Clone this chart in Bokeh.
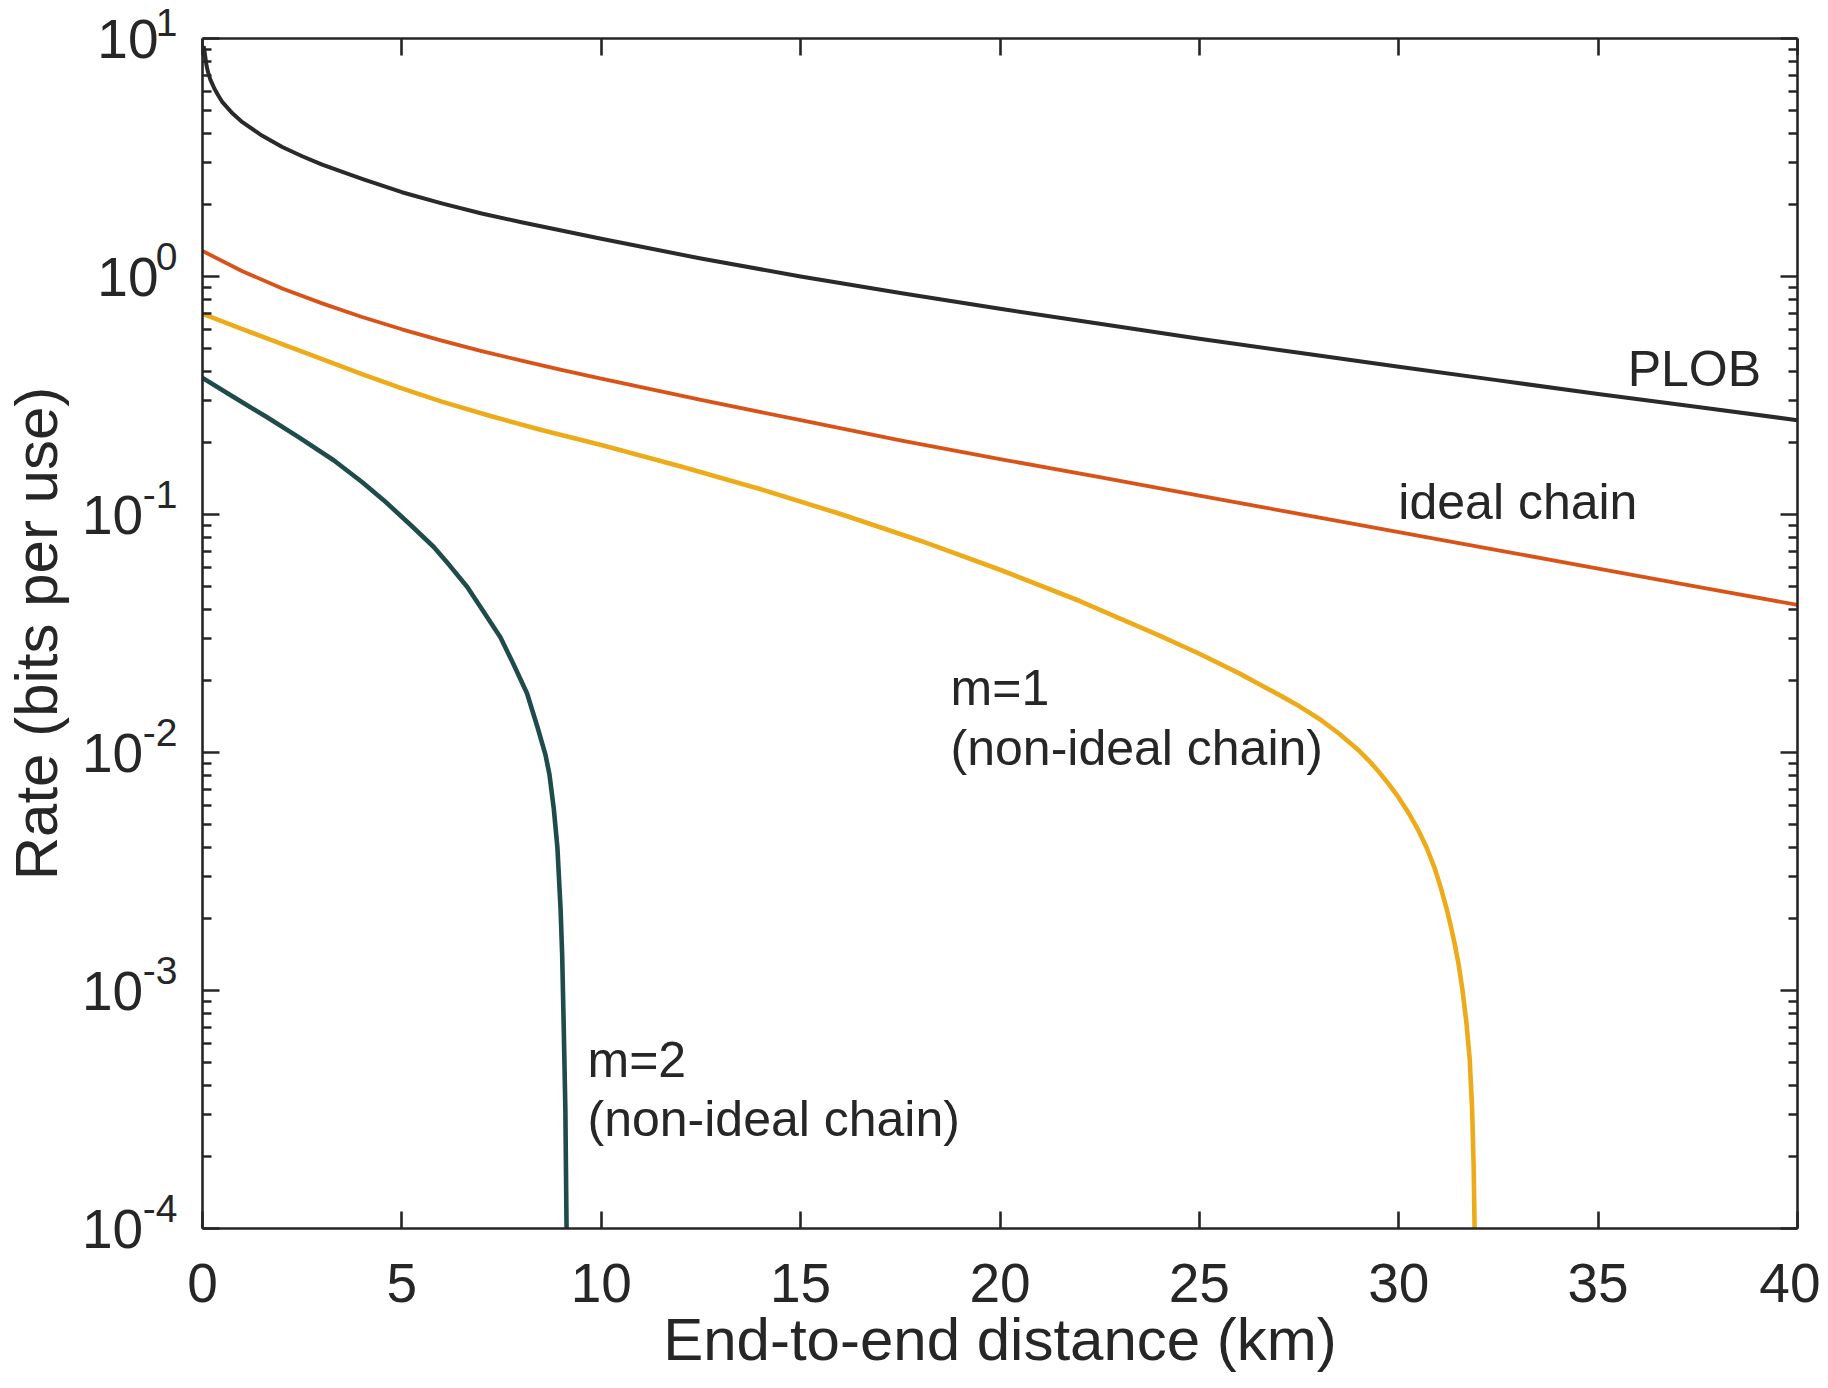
from bokeh.plotting import figure
from bokeh.models import Range1d, LinearAxis, LogAxis, FixedTicker, Label, CustomJSTickFormatter
from bokeh.embed import file_html
from bokeh.resources import INLINE

# ---------------- data ----------------
plob_d = [0.03, 0.06, 0.1, 0.15, 0.2, 0.3, 0.4, 0.5, 0.75, 1, 1.5, 2, 2.5, 3, 4, 5, 6, 7, 8, 10,
          12.5, 15, 17.5, 20, 22.5, 25, 27.5, 30, 32.5, 35, 37.5, 40]
plob_r = [9.3, 8.6, 7.7, 7.1, 6.7, 6.15, 5.75, 5.4, 4.85, 4.45, 3.9, 3.5, 3.2, 2.95, 2.57, 2.26, 2.03, 1.84, 1.69, 1.44,
          1.19, 1.0, 0.853, 0.732, 0.633, 0.548, 0.478, 0.418, 0.366, 0.321, 0.283, 0.249]

ideal_d = [0, 1, 2, 3, 4, 5, 6, 7, 8, 9, 10, 12.5, 15, 17.5, 20, 22.5, 25,
           27.5, 30, 32.5, 35, 37.5, 40]
ideal_r = [1.28, 1.052, 0.891, 0.771, 0.676, 0.600, 0.538, 0.486, 0.443, 0.405, 0.372, 0.303, 0.249, 0.205,
           0.171, 0.1435, 0.12, 0.1006, 0.0844, 0.0707, 0.0593, 0.0497, 0.0417]

m1_d = [0, 1, 2, 3, 4, 5, 6, 7.2, 8.5, 10, 12, 14, 16, 18, 20, 22, 24, 25, 26, 27, 27.5, 28, 28.5, 29, 29.25,
        29.5, 29.75, 30, 30.25, 30.5, 30.7, 30.9, 31.05, 31.2, 31.3, 31.4, 31.5, 31.6, 31.7, 31.78, 31.84,
        31.88, 31.91, 31.95]
m1_r = [0.697, 0.601, 0.520, 0.450, 0.389, 0.339, 0.298, 0.260, 0.2265, 0.196, 0.1592, 0.1276, 0.1005, 0.0776,
        0.0586, 0.0433, 0.0310, 0.0260, 0.0215, 0.01746, 0.01567, 0.01387, 0.01202, 0.01019, 0.00925,
        0.00830, 0.00736, 0.00646, 0.00556, 0.00468, 0.00398, 0.00327, 0.00272, 0.00221, 0.00188, 0.00158,
        0.00129, 0.00100, 0.000724, 0.000513, 0.000316, 0.000178, 0.0000794, 0.000001]

m2_d = [0, 0.8, 1.62, 2.4, 3.29, 4.0, 4.55, 5.2, 5.8, 6.2, 6.64, 7.05, 7.47, 7.8, 8.14, 8.4,
        8.5, 8.6, 8.7, 8.81, 8.9, 8.98, 9.02, 9.06, 9.1, 9.13, 9.16]
m2_r = [0.375, 0.31, 0.256, 0.212, 0.169, 0.137, 0.1146, 0.091, 0.073, 0.061, 0.0496, 0.039, 0.0305, 0.0235,
        0.0177, 0.0128, 0.0112, 0.0098, 0.0081, 0.0058, 0.0040, 0.0022, 0.00141, 0.00069, 0.000316, 0.0001,
        0.00001]

x_ticks = [0, 5, 10, 15, 20, 25, 30, 35, 40]
y_exponents = [1, 0, -1, -2, -3, -4]

x_title = "End-to-end distance (km)"
y_title = "Rate (bits per use)"

annotations = [
    ("PLOB", 35.74, 0.4095),
    ("ideal chain", 29.99, 0.1131),
    ("m=1", 18.76, 0.0187),
    ("(non-ideal chain)", 18.76, 0.01046),
    ("m=2", 9.655, 5.114e-4),
    ("(non-ideal chain)", 9.655, 2.889e-4),
]

# ---------------- styling ----------------
FONT = "Liberation Sans"
TXT = "#262626"
AX = "#262626"

p = figure(width=1820, height=1384,
           x_range=Range1d(0, 40), y_range=Range1d(1e-4, 10),
           y_axis_type="log", output_backend="svg", toolbar_location=None,
           min_border_left=202, min_border_right=23, min_border_top=38, min_border_bottom=156)
p.background_fill_color = "white"
p.border_fill_color = "white"
p.outline_line_color = None
p.xgrid.visible = False
p.ygrid.visible = False

blank = CustomJSTickFormatter(code="return ''")
x_ticker = FixedTicker(ticks=x_ticks, minor_ticks=[])
decades = [10.0 ** k for k in y_exponents]
y_ticker = FixedTicker(ticks=decades,
                       minor_ticks=[m * 10.0 ** k for k in range(-4, 1) for m in range(2, 10)])


def style(ax):
    ax.axis_line_color = AX
    ax.axis_line_width = 2.6
    ax.major_tick_line_color = AX
    ax.major_tick_line_width = 2.6
    ax.minor_tick_line_color = AX
    ax.minor_tick_line_width = 2.4
    ax.major_tick_in = 17
    ax.major_tick_out = 0
    ax.minor_tick_in = 9
    ax.minor_tick_out = 0


# bottom axis (with labels and title)
xb = p.xaxis[0]
xb.ticker = x_ticker
style(xb)
xb.minor_tick_line_color = None
xb.major_label_text_font = FONT
xb.major_label_text_font_size = "55px"
xb.major_label_text_color = TXT
xb.major_label_standoff = 35
xb.axis_label = x_title
xb.axis_label_text_font = FONT
xb.axis_label_text_font_size = "60px"
xb.axis_label_text_font_style = "normal"
xb.axis_label_text_color = TXT
xb.axis_label_standoff = 1

# left log axis: ticks only
yl = p.yaxis[0]
yl.ticker = y_ticker
yl.formatter = blank
yl.major_label_standoff = 0
style(yl)

# top / right mirrored tick axes
xt = LinearAxis(ticker=x_ticker, formatter=blank, major_label_standoff=0)
style(xt)
xt.minor_tick_line_color = None
p.add_layout(xt, "above")

yr = LogAxis(ticker=y_ticker, formatter=blank, major_label_standoff=0)
style(yr)
p.add_layout(yr, "right")

# ---------------- y tick labels: "10" with a raised exponent (two label-only axes) ----------------
# exponent: two-line label (second line blank) so the digits sit above the tick
exp_axis = LogAxis(ticker=FixedTicker(ticks=decades, minor_ticks=[]),
                   major_label_overrides={v: str(k) + "\n\u00a0" for v, k in zip(decades, y_exponents)},
                   axis_line_color=None, major_tick_line_color=None, minor_tick_line_color=None,
                   major_tick_in=0, major_tick_out=0, minor_tick_in=0, minor_tick_out=0,
                   major_label_standoff=25,
                   major_label_text_font=FONT, major_label_text_font_size="39px",
                   major_label_text_line_height=0.95,
                   major_label_text_color=TXT)
p.add_layout(exp_axis, "left")

ten_axis = LogAxis(ticker=FixedTicker(ticks=decades, minor_ticks=[]),
                   major_label_overrides={v: ("10" if k >= 0 else "10\u00a0")
                                          for v, k in zip(decades, y_exponents)},
                   axis_line_color=None, major_tick_line_color=None, minor_tick_line_color=None,
                   major_tick_in=0, major_tick_out=0, minor_tick_in=0, minor_tick_out=0,
                   major_label_standoff=-19,
                   major_label_text_font=FONT, major_label_text_font_size="55px",
                   major_label_text_color=TXT,
                   axis_label=y_title, axis_label_standoff=9,
                   axis_label_text_font=FONT, axis_label_text_font_size="60px",
                   axis_label_text_font_style="normal", axis_label_text_color=TXT)
p.add_layout(ten_axis, "left")

# ---------------- curves ----------------
p.line(plob_d, plob_r, line_color="#2a2a2a", line_width=4, line_join="round")
p.line(ideal_d, ideal_r, line_color="#D95319", line_width=3.8, line_join="round")
p.line(m1_d, m1_r, line_color="#EDAB1A", line_width=4.6, line_join="round")
p.line(m2_d, m2_r, line_color="#1F4B4B", line_width=4.6, line_join="round")

# ---------------- curve annotations ----------------
for txt, ax_, ay_ in annotations:
    p.add_layout(Label(x=ax_, y=ay_, text=txt, text_align="left", text_baseline="middle",
                       text_font=FONT, text_font_size="50px", text_color=TXT))

open("out.html", "w").write(file_html(p, INLINE))
